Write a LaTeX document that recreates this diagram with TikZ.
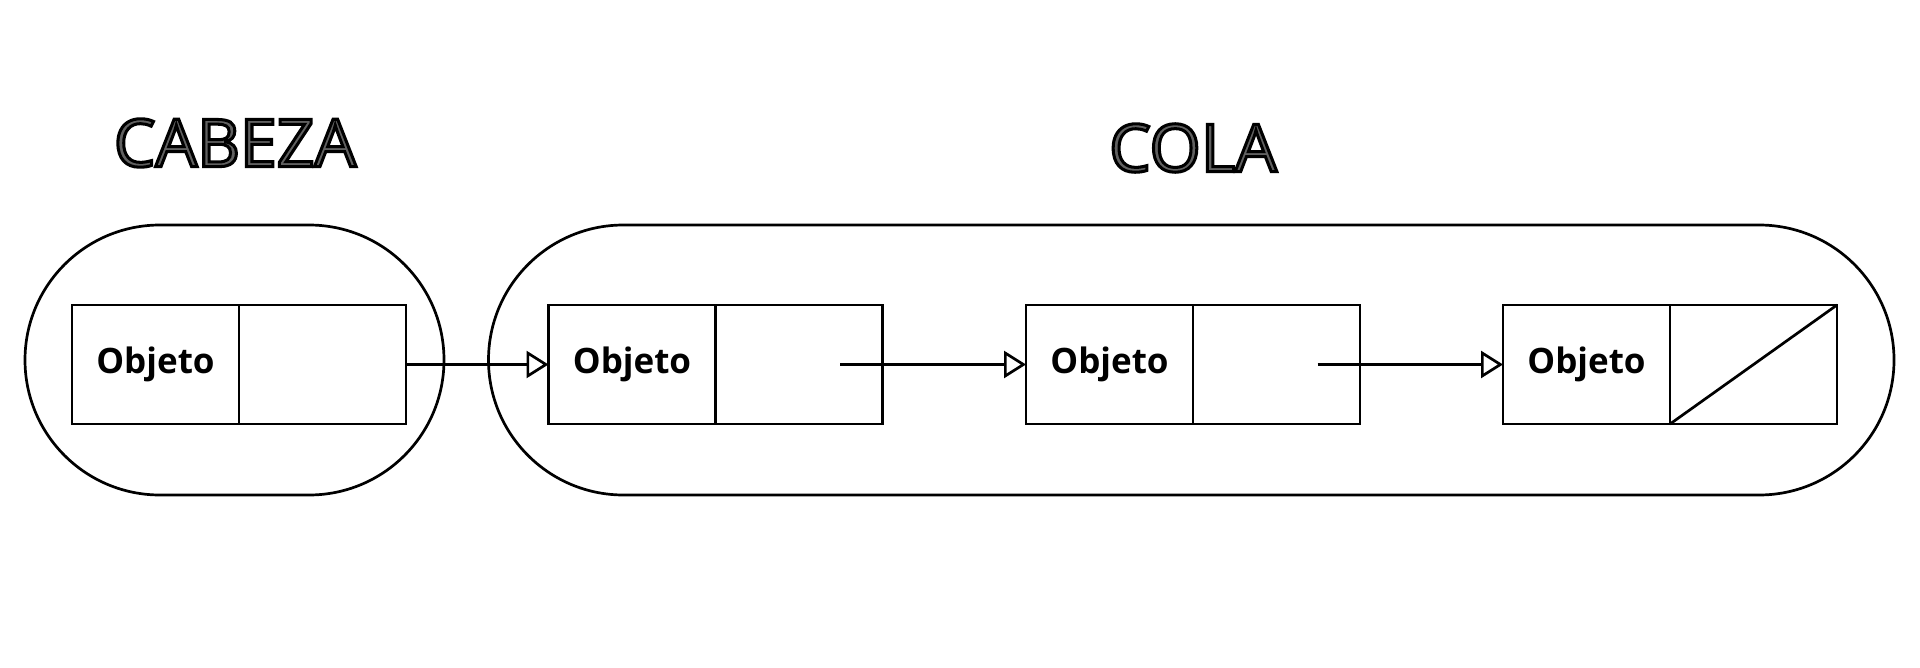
\documentclass[tikz,border=0pt]{standalone}
\usepackage{fontspec}
\setmainfont{Open Sans}
\newfontfamily\titulofont[FakeBold=4.6]{Open Sans}
\newcommand{\bordenegro}{\special{pdf:literal direct 0 G}}
\usetikzlibrary{arrows.meta,positioning}

\begin{document}
\begin{tikzpicture}[x=0.5pt,y=-0.5pt,line width=1.35pt,
  celda/.style={draw,minimum width=83.5pt,minimum height=59.5pt,inner sep=0pt,outer sep=0pt},
  dato/.style={celda,font=\fontsize{17.5}{20}\selectfont\bfseries},
  titulo/.style={font=\titulofont\fontsize{33}{40}\selectfont,text=black!62},
  flecha/.style={-{Triangle[open,length=11pt,width=13.5pt]}}]
  \useasboundingbox (0,0) rectangle (1920,668);
  % contenedores
  \draw[rounded corners=67.5pt] (25,225) rectangle (444,495);
  \draw[rounded corners=67.5pt] (488.5,225) rectangle (1894,495);
  \node[titulo] (cabeza) at (235,143) {\bordenegro CABEZA};
  \node[titulo] (cola) at (1193,148) {\bordenegro COLA};
  % nodos de la lista
  \node[dato] (h) at (155.5,364.5) {Objeto};
  \node[celda,right=0pt of h] (hp) {};
  \node[dato] (a) at (632,364.5) {Objeto};
  \node[celda,right=0pt of a] (ap) {};
  \node[dato] (b) at (1109.5,364.5) {Objeto};
  \node[celda,right=0pt of b] (bp) {};
  \node[dato] (c) at (1586.5,364.5) {Objeto};
  \node[celda,right=0pt of c] (cp) {};
  \coordinate (pa) at ([xshift=20.5pt]ap.center);
  \coordinate (pb) at ([xshift=20.5pt]bp.center);
  % enlaces
  \draw[flecha] (hp.east) -- (a.west);
  \draw[flecha] (pa) -- (b.west);
  \draw[flecha] (pb) -- (c.west);
  \draw (cp.south west) -- (cp.north east);
\end{tikzpicture}
\end{document}
